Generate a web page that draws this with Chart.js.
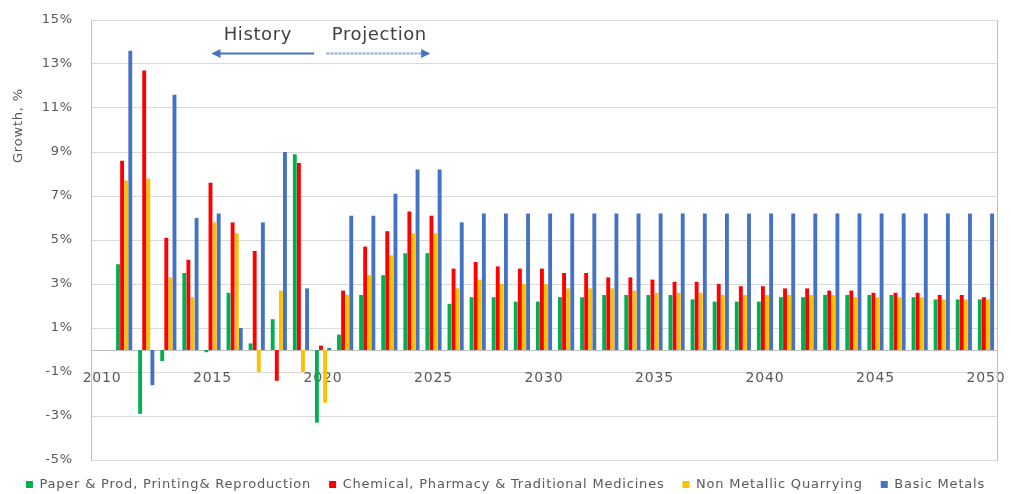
<!DOCTYPE html>
<html>
<head>
<meta charset="utf-8">
<script src="https://cdn.jsdelivr.net/npm/chart.js@4.4.1/dist/chart.umd.min.js"></script>
<style>
  html, body { margin: 0; padding: 0; background: #fff; }
  #wrap { width: 1011px; height: 494px; position: relative; }
</style>
</head>
<body>
<div id="wrap"><canvas id="growthChart"></canvas></div>
<script>
const years = [2010, 2011, 2012, 2013, 2014, 2015, 2016, 2017, 2018, 2019,
  2020, 2021, 2022, 2023, 2024, 2025, 2026, 2027, 2028, 2029,
  2030, 2031, 2032, 2033, 2034, 2035, 2036, 2037, 2038, 2039,
  2040, 2041, 2042, 2043, 2044, 2045, 2046, 2047, 2048, 2049, 2050];

const paperPrinting = [null, 3.9, -2.9, -0.5, 3.5, -0.1, 2.6, 0.3, 1.4, 8.9,
  -3.3, 0.7, 2.5, 3.4, 4.4, 4.4, 2.1, 2.4, 2.4, 2.2,
  2.2, 2.4, 2.4, 2.5, 2.5, 2.5, 2.5, 2.3, 2.2, 2.2,
  2.2, 2.4, 2.4, 2.5, 2.5, 2.5, 2.5, 2.4, 2.3, 2.3, 2.3];

const chemicalPharma = [null, 8.6, 12.7, 5.1, 4.1, 7.6, 5.8, 4.5, -1.4, 8.5,
  0.2, 2.7, 4.7, 5.4, 6.3, 6.1, 3.7, 4.0, 3.8, 3.7,
  3.7, 3.5, 3.5, 3.3, 3.3, 3.2, 3.1, 3.1, 3.0, 2.9,
  2.9, 2.8, 2.8, 2.7, 2.7, 2.6, 2.6, 2.6, 2.5, 2.5, 2.4];

const nonMetallic = [null, 7.7, 7.8, 3.3, 2.4, 5.8, 5.3, -1.0, 2.7, -1.0,
  -2.4, 2.5, 3.4, 4.3, 5.3, 5.3, 2.8, 3.2, 3.0, 3.0,
  3.0, 2.8, 2.8, 2.8, 2.7, 2.6, 2.6, 2.6, 2.5, 2.5,
  2.5, 2.5, 2.5, 2.5, 2.4, 2.4, 2.4, 2.4, 2.3, 2.3, 2.3];

const basicMetals = [null, 13.6, -1.6, 11.6, 6.0, 6.2, 1.0, 5.8, 9.0, 2.8,
  0.1, 6.1, 6.1, 7.1, 8.2, 8.2, 5.8, 6.2, 6.2, 6.2,
  6.2, 6.2, 6.2, 6.2, 6.2, 6.2, 6.2, 6.2, 6.2, 6.2,
  6.2, 6.2, 6.2, 6.2, 6.2, 6.2, 6.2, 6.2, 6.2, 6.2, 6.2];

const yTicks = [-5, -3, -1, 1, 3, 5, 7, 9, 11, 13, 15];

const textGrey = '#595959';
const gridGrey = '#d9d9d9';
const frameGrey = '#bfbfbf';
const FONT = "'DejaVu Sans', sans-serif";

// wide lettering like the original
const spacing = {
  id: 'spacing',
  beforeUpdate(chart) { chart.ctx.letterSpacing = '0.8px'; },
  beforeDraw(chart) { chart.ctx.letterSpacing = '0.8px'; }
};

// y title and the History / Projection arrows
const extras = {
  id: 'extras',
  afterDraw(chart) {
    const { ctx, scales: { x, y } } = chart;
    ctx.save();
    ctx.fillStyle = textGrey;
    ctx.font = '13px ' + FONT;
    ctx.translate(19, y.getPixelForValue(10.2));
    ctx.rotate(-Math.PI / 2);
    ctx.textAlign = 'center';
    ctx.textBaseline = 'middle';
    ctx.fillText('Growth, %', 0, 0);
    ctx.restore();

    ctx.save();
    const ay = Math.round(y.getPixelForValue(13.5)) + 0.5;
    const ty = y.getPixelForValue(14.3);
    ctx.font = '18px ' + FONT;
    ctx.letterSpacing = '0.6px';
    ctx.fillStyle = '#404040';
    ctx.textAlign = 'center';
    ctx.textBaseline = 'middle';
    ctx.fillText('History', x.getPixelForValue(7.05), ty);
    ctx.fillText('Projection', x.getPixelForValue(12.55), ty);

    const hx0 = x.getPixelForValue(4.95), hx1 = x.getPixelForValue(9.6);
    ctx.strokeStyle = '#4472c4';
    ctx.lineWidth = 2;
    ctx.beginPath();
    ctx.moveTo(hx1, ay);
    ctx.lineTo(hx0 + 6, ay);
    ctx.stroke();
    ctx.fillStyle = '#4472c4';
    ctx.beginPath();
    ctx.moveTo(hx0, ay);
    ctx.lineTo(hx0 + 9, ay - 4.5);
    ctx.lineTo(hx0 + 9, ay + 4.5);
    ctx.closePath();
    ctx.fill();

    const px0 = x.getPixelForValue(10.15), px1 = x.getPixelForValue(14.85);
    ctx.strokeStyle = '#8eaadb';
    ctx.setLineDash([3, 1]);
    ctx.beginPath();
    ctx.moveTo(px0, ay);
    ctx.lineTo(px1 - 6, ay);
    ctx.stroke();
    ctx.setLineDash([]);
    ctx.beginPath();
    ctx.moveTo(px1, ay);
    ctx.lineTo(px1 - 9, ay - 4.5);
    ctx.lineTo(px1 - 9, ay + 4.5);
    ctx.closePath();
    ctx.fill();
    ctx.restore();
  }
};

Chart.defaults.font.family = FONT;
Chart.defaults.color = textGrey;

new Chart(document.getElementById('growthChart'), {
  type: 'bar',
  data: {
    labels: years,
    datasets: [
      { label: 'Paper & Prod, Printing& Reproduction', data: paperPrinting, backgroundColor: '#00b050' },
      { label: 'Chemical, Pharmacy & Traditional Medicines', data: chemicalPharma, backgroundColor: '#ff0000' },
      { label: 'Non Metallic Quarrying', data: nonMetallic, backgroundColor: '#ffc000' },
      { label: 'Basic Metals', data: basicMetals, backgroundColor: '#4472c4' }
    ]
  },
  options: {
    responsive: true,
    maintainAspectRatio: false,
    animation: false,
    categoryPercentage: 0.74,
    barPercentage: 0.95,
    layout: { padding: { top: 20, right: 0, left: 0, bottom: -7 } },
    plugins: {
      legend: {
        position: 'bottom',
        labels: { boxWidth: 7, boxHeight: 7, padding: 18, font: { size: 13 }, color: textGrey }
      },
      tooltip: { enabled: false }
    },
    scales: {
      x: {
        position: { y: 0 },
        grid: { display: false, drawTicks: true, tickLength: 20 },
        border: { color: frameGrey },
        ticks: {
          autoSkip: false,
          maxRotation: 0,
          padding: 0,
          font: { size: 14 },
          callback: (v, i) => (years[i] % 5 === 0 ? String(years[i]) : '')
        }
      },
      y: {
        min: yTicks[0],
        max: yTicks[yTicks.length - 1],
        afterBuildTicks: s => { s.ticks = yTicks.map(v => ({ value: v })); },
        afterFit: s => { s.width = 91; },
        grid: { color: gridGrey, tickLength: 15, tickColor: 'rgba(0,0,0,0)' },
        border: { color: frameGrey },
        ticks: { padding: 3, font: { size: 13 }, callback: v => v + '%' }
      },
      // right-hand frame line only
      yRight: {
        position: 'right',
        afterFit: s => { s.width = 14; },
        grid: { drawOnChartArea: false, drawTicks: false },
        border: { color: frameGrey },
        ticks: { display: false }
      }
    }
  },
  plugins: [spacing, extras]
});
</script>
</body>
</html>
